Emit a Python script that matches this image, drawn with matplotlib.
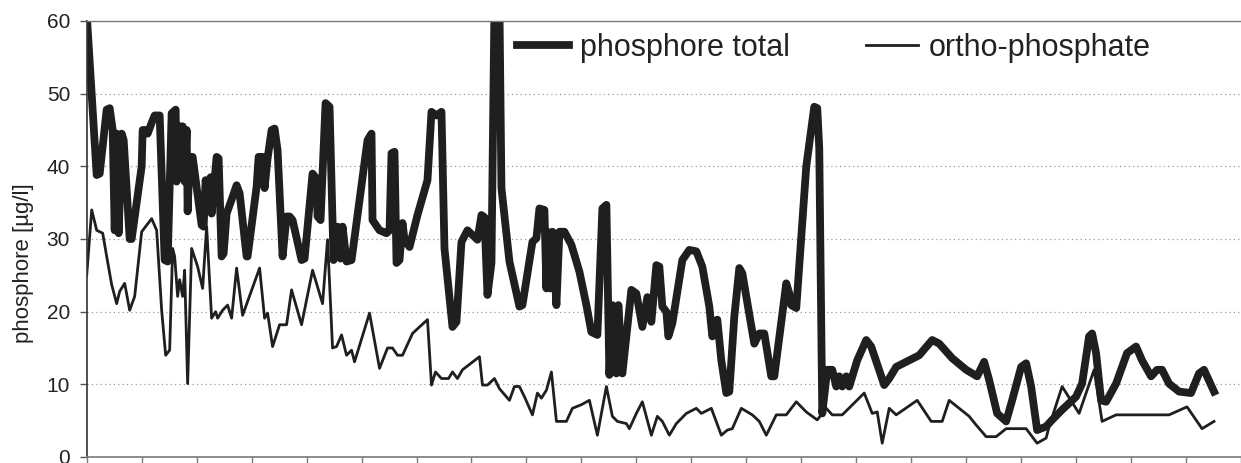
import matplotlib
matplotlib.use("Agg")
import matplotlib.pyplot as plt

plt.rcParams['font.family'] = ['Liberation Sans', 'DejaVu Sans']

# sampling time (arbitrary units, one x tick = 55 units)
t_total = [0, 10, 13, 20, 23, 26, 28, 30, 32, 35, 37, 43, 45, 55, 56, 60, 61, 65, 68, 73,
           78, 81, 85, 89, 90, 93, 96, 98, 100, 101, 103, 106, 115, 117, 119, 122, 124, 125,
           130, 132, 135, 137, 140, 146, 150, 153, 160, 161, 170, 172, 176, 178, 181, 185,
           188, 191, 196, 200, 203, 206, 215, 218, 226, 230, 231, 234, 239, 243, 247, 251,
           254, 256, 260, 265, 273, 281, 285, 286, 293, 300, 303, 305, 308, 310, 313, 316,
           318, 323, 331, 341, 345, 350, 355, 358, 366, 370, 375, 381, 391, 395, 398, 401,
           405, 408, 413, 415, 420, 423, 433, 436, 446, 450, 453, 458, 460, 461, 464, 466,
           470, 473, 478, 485, 493, 500, 505, 511, 516, 520, 523, 526, 530, 532, 536, 545,
           550, 556, 561, 565, 570, 573, 576, 580, 582, 586, 596, 603, 610, 616, 623, 626,
           631, 635, 640, 643, 648, 653, 656, 668, 673, 678, 685, 688, 700, 703, 705, 710,
           720, 728, 731, 733, 736, 741, 746, 750, 753, 756, 760, 763, 771, 780, 785, 798,
           803, 810, 823, 833, 846, 853, 866, 880, 891, 898, 903, 911, 920, 926, 935, 940,
           945, 951, 960, 966, 976, 990, 996, 1003, 1006, 1010, 1015, 1020, 1030, 1041,
           1050, 1056, 1065, 1071, 1076, 1083, 1093, 1105, 1113, 1118, 1121, 1128]
p_total = [61, 38.8, 39, 47.8, 48, 45, 31.2, 44.5, 30.8, 44.5, 43.6, 30, 30, 40, 45, 45,
           44.5, 46, 47, 47, 27.1, 26.9, 47.3, 47.8, 37.9, 45.5, 45.5, 37.9, 45, 33.8, 41.3,
           41.3, 31.9, 31.7, 38.1, 34, 38.5, 33.5, 41.3, 41.1, 27.6, 28, 33.5, 35.8, 37.4,
           36.3, 27.6, 27.6, 37.2, 41.3, 41.3, 37, 41.1, 45, 45.2, 42.2, 27.6, 33.1, 33.1,
           32.6, 27.1, 27.3, 39, 38.3, 33.1, 32.6, 48.7, 48.2, 27.1, 31.7, 27.3, 31.7, 26.9,
           27.1, 35.4, 43.6, 44.5, 32.6, 31.2, 30.8, 31.2, 41.8, 42, 26.7, 27.1, 32.2, 29.9,
           28.9, 33.3, 38.1, 47.5, 47, 47.5, 28.7, 17.9, 18.6, 29.6, 31.2, 29.9, 33.3, 33,
           22.3, 26.7, 62, 62, 37, 30.6, 26.9, 20.7, 20.9, 29.6, 30.1, 34.2, 34, 23.2, 31,
           23.2, 31, 20.9, 31, 31, 29.2, 25.5, 20.9, 17.2, 16.8, 34.2, 34.7, 11.3, 20.9,
           11.5, 20.9, 11.5, 23, 22.5, 17.9, 22, 18.6, 26.4, 26.2, 20.7, 20, 16.6, 18.4,
           27.1, 28.5, 28.3, 26.2, 20.7, 16.6, 18.9, 13.3, 8.8, 9, 19.3, 26, 25.3, 15.6, 17,
           17, 11.1, 11.1, 23.9, 22.5, 20.9, 20.5, 40, 48.2, 48, 42.5, 6, 12, 12, 9.7, 11.1,
           9.7, 11.1, 9.7, 13.3, 16.1, 15.2, 9.9, 10.8, 12.4, 13.3, 14, 16.1, 15.6, 13.6, 12,
           11.1, 13.1, 10.6, 6, 4.9, 7.8, 12.4, 12.9, 9.7, 3.7, 4.2, 5.1, 6.5, 8.3, 10.1,
           16.6, 17, 14.3, 7.8, 7.6, 10.1, 14.3, 15.2, 13.3, 11.1, 12, 12, 10.1, 9, 8.8,
           11.5, 12, 11.1, 9]

t_ortho = [0, 5, 10, 13, 16, 20, 25, 30, 33, 38, 43, 48, 55, 65, 70, 75, 79, 83, 86, 88,
           91, 93, 96, 98, 101, 105, 111, 116, 120, 125, 129, 131, 136, 141, 145, 150, 156,
           173, 178, 181, 186, 193, 200, 205, 215, 226, 236, 241, 246, 250, 255, 260, 265,
           268, 283, 293, 301, 306, 311, 316, 326, 333, 341, 345, 349, 355, 362, 366, 371,
           376, 393, 396, 401, 408, 413, 423, 428, 433, 438, 446, 451, 455, 460, 465, 470,
           480, 486, 495, 503, 511, 520, 526, 531, 540, 543, 550, 556, 565, 571, 576, 583,
           590, 600, 610, 615, 625, 635, 641, 646, 655, 666, 673, 680, 690, 700, 710, 720,
           731, 740, 746, 756, 778, 786, 791, 796, 803, 810, 831, 845, 856, 863, 883, 890,
           900, 910, 920, 940, 951, 960, 963, 976, 993, 1008, 1016, 1030, 1083, 1101, 1116,
           1128]
p_ortho = [25, 34, 31.2, 31, 30.8, 27.6, 23.7, 21.1, 22.8, 23.9, 20.2, 22.1, 31, 32.8, 31.2,
           20.2, 14, 14.7, 28.7, 27.6, 22.1, 24.4, 22.1, 25.7, 10.1, 28.7, 26.2, 23.2, 31.7,
           19.1, 20, 19.1, 20.2, 20.9, 19.1, 26, 19.5, 26, 19.1, 19.8, 15.2, 18.2, 18.2, 23,
           18.2, 25.7, 21.1, 29.9, 15, 15.2, 16.8, 14, 14.7, 13.1, 19.8, 12.2, 15, 15, 14, 14,
           17, 17.9, 18.9, 9.9, 11.7, 10.8, 10.8, 11.7, 10.8, 12, 13.8, 9.9, 9.9, 10.8, 9.4,
           7.8, 9.7, 9.7, 8.3, 5.8, 8.8, 8.1, 9.2, 11.7, 4.9, 4.9, 6.7, 7.2, 7.8, 3, 9.7, 5.6,
           4.9, 4.6, 3.9, 6, 7.6, 3, 5.6, 4.9, 3, 4.6, 6, 6.7, 6, 6.7, 3, 3.7, 3.9, 6.7, 5.8,
           4.9, 3, 5.8, 5.8, 7.6, 6.2, 5.1, 6.7, 5.8, 5.8, 8.8, 6, 6.2, 1.9, 6.7, 5.8, 7.8,
           4.9, 4.9, 7.8, 5.6, 4.4, 2.8, 2.8, 3.9, 3.9, 1.9, 2.6, 4.2, 9.7, 6, 12, 4.9, 5.8,
           5.8, 6.9, 3.9, 4.9]

y_ticks = [0, 10, 20, 30, 40, 50, 60]
x_step = 55
n_steps = 21

W, H = 1241, 463
fig = plt.figure(figsize=(W / 100, H / 100), dpi=100)
ax = fig.add_axes([86.7 / W, 6 / H, (W - 86.7) / W, 436 / H])

line_col = '#1f1f1f'
ax.plot(t_total, p_total, color=line_col, lw=5.6, solid_joinstyle='round',
        label='phosphore total')
ax.plot(t_ortho, p_ortho, color=line_col, lw=2.0, label='ortho-phosphate')

ax.set_xlim(0, x_step * n_steps)
ax.set_ylim(0, 60)
ax.set_yticks(y_ticks)
ax.set_xticks([i * x_step for i in range(n_steps + 1)])
ax.set_xticklabels([])

ax.yaxis.grid(True, color='#9a9a9a', linestyle=(0, (1, 2.5)), lw=0.9)
ax.set_axisbelow(True)

ax.spines['right'].set_visible(False)
ax.spines['top'].set_color('#7a7a7a')
ax.spines['top'].set_linewidth(1.0)
ax.spines['bottom'].set_color('#7a7a7a')
ax.spines['bottom'].set_linewidth(1.2)
ax.spines['left'].set_color('#333333')
ax.spines['left'].set_linewidth(1.2)

ax.tick_params(axis='y', direction='out', length=5, width=1, color='#555555',
               labelsize=15, pad=7, labelcolor='#222222')
ax.tick_params(axis='x', direction='out', length=6, width=1, color='#7a7a7a')

fig.text(24 / W, 1 - 263 / H, 'phosphore [µg/l]', rotation=90, ha='center', va='center',
         fontsize=16, color='#222222')

leg = ax.legend(loc='center left', bbox_to_anchor=(517 / W, 1 - 48 / H),
                bbox_transform=fig.transFigure, ncol=2, frameon=False, fontsize=22,
                handlelength=1.7, handletextpad=0.35, columnspacing=2.5,
                borderpad=0, borderaxespad=0)
for txt in leg.get_texts():
    txt.set_color('#222222')

fig.savefig('out.png', dpi=100)
